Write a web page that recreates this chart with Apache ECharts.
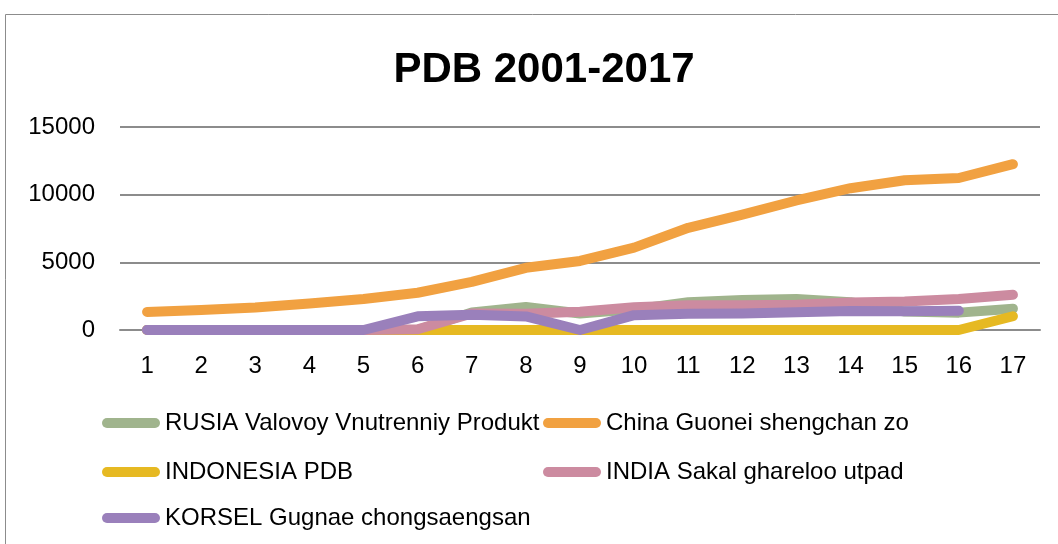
<!DOCTYPE html>
<html>
<head>
<meta charset="utf-8">
<script src="https://cdn.jsdelivr.net/npm/echarts@6/dist/echarts.min.js"></script>
<style>
  html, body { margin: 0; padding: 0; background: #fff; }
  #chart { width: 1058px; height: 544px; }
</style>
</head>
<body>
<div id="chart"></div>
<script>
const categories = ['1','2','3','4','5','6','7','8','9','10','11','12','13','14','15','16','17'];
const rusia     = [0, 0, 0, 0, 0, 0, 1300, 1700, 1222, 1525, 2046, 2208, 2292, 2059, 1363, 1283, 1578];
const china     = [1339, 1470, 1660, 1955, 2286, 2752, 3550, 4594, 5101, 6087, 7551, 8532, 9570, 10475, 11061, 11233, 12250];
const indonesia = [0, 0, 0, 0, 0, 0, 0, 0, 0, 0, 0, 0, 0, 0, 0, 0, 1015];
const india     = [0, 0, 0, 0, 0, 50, 1216, 1198, 1342, 1676, 1823, 1828, 1857, 2039, 2103, 2290, 2600];
const korsel    = [0, 0, 0, 0, 0, 1011, 1123, 1002, 0, 1094, 1202, 1222, 1305, 1411, 1382, 1415, null];
const yTicks = [0, 5000, 10000, 15000];

const names = ['RUSIA Valovoy Vnutrenniy Produkt', 'China Guonei shengchan zo', 'INDONESIA PDB', 'INDIA Sakal ghareloo utpad', 'KORSEL Gugnae chongsaengsan'];
const colors = ['#a0b48d', '#f1a141', '#e6b922', '#cc8ba0', '#9a80bb'];
const values = [rusia, china, indonesia, india, korsel];

const FONT = 'Liberation Sans';
const chart = echarts.init(document.getElementById('chart'), null, { renderer: 'canvas' });

const capsule = 'path://M5,0 L53,0 A5,5 0 0 1 53,10 L5,10 A5,5 0 0 1 5,0 Z';
const legendPos = [[102, 409], [543, 409], [102, 458], [543, 458], [102, 504]];
const legends = names.map((n, i) => ({
  data: [{ name: n, icon: capsule }],
  left: legendPos[i][0],
  top: legendPos[i][1],
  padding: 0,
  itemWidth: 58,
  itemHeight: 10,
  itemGap: 0,
  selectedMode: false,
  textStyle: { fontFamily: FONT, fontSize: 24, color: '#000', lineHeight: 28, padding: [0, 0, 0, 0] }
}));

const option = {
  animation: false,
  backgroundColor: '#fff',
  title: {
    text: 'PDB 2001-2017',
    left: 539,
    top: 44,
    textAlign: 'center',
    textStyle: { fontFamily: FONT, fontSize: 42, fontWeight: 'bold', color: '#000' }
  },
  graphic: [{
    type: 'rect',
    shape: { x: 5.5, y: 14.5, width: 1200, height: 700 },
    style: { fill: 'none', stroke: '#8c8c8c', lineWidth: 1 },
    silent: true
  }],
  legend: legends,
  grid: { left: 120, right: 18, top: 127, bottom: 214, containLabel: false },
  xAxis: {
    type: 'category',
    data: categories,
    boundaryGap: true,
    axisLine: { show: true, lineStyle: { color: '#8c8c8c', width: 2 } },
    axisTick: { show: false },
    axisLabel: { fontFamily: FONT, fontSize: 24, color: '#000', margin: 24 }
  },
  yAxis: {
    type: 'value',
    min: yTicks[0],
    max: yTicks[yTicks.length - 1],
    interval: 5000,
    axisLine: { show: false },
    axisTick: { show: false },
    splitLine: { lineStyle: { color: '#8c8c8c', width: 2 } },
    axisLabel: { fontFamily: FONT, fontSize: 24, color: '#000', margin: 25, formatter: v => String(v) }
  },
  series: names.map((n, i) => ({
    name: n,
    type: 'line',
    data: values[i],
    symbol: 'none',
    connectNulls: false,
    color: colors[i],
    lineStyle: { color: colors[i], width: 10, cap: 'round', join: 'round' },
    emphasis: { disabled: true }
  }))
};
chart.setOption(option);
</script>
</body>
</html>
